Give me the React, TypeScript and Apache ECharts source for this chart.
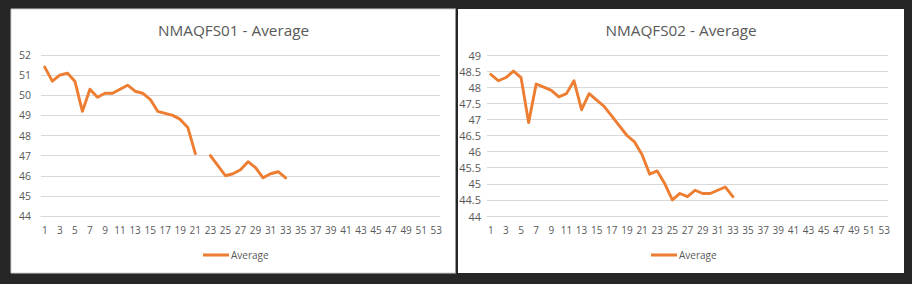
import React, { useEffect, useRef } from "react";
import * as echarts from "echarts";

const categories: string[] = Array.from({ length: 53 }, (_, i) => String(i + 1));

const titleLeft = "NMAQFS01 - Average";
const titleRight = "NMAQFS02 - Average";
const seriesName = "Average";

const valuesLeft: (number | null)[] = [
  51.4, 50.7, 51.0, 51.1, 50.7, 49.2, 50.3, 49.9, 50.1, 50.1,
  50.3, 50.5, 50.2, 50.1, 49.8, 49.2, 49.1, 49.0, 48.8, 48.4,
  47.1, null, 47.0, 46.5, 46.0, 46.1, 46.3, 46.7, 46.4, 45.9,
  46.1, 46.2, 45.9,
];

const valuesRight: (number | null)[] = [
  48.4, 48.2, 48.3, 48.5, 48.3, 46.9, 48.1, 48.0, 47.9, 47.7,
  47.8, 48.2, 47.3, 47.8, 47.6, 47.4, 47.1, 46.8, 46.5, 46.3,
  45.9, 45.3, 45.4, 45.0, 44.5, 44.7, 44.6, 44.8, 44.7, 44.7,
  44.8, 44.9, 44.6,
];

const FONT = "Open Sans";
const TEXT = "#595959";
const GRID = "#D9D9D9";
const ORANGE = "#ED7D31";

export default function App() {
  const ref = useRef<HTMLDivElement>(null);
  useEffect(() => {
    if (!ref.current) return;
    const chart = echarts.init(ref.current, undefined, { renderer: "svg" });
    const xAxisBase = {
      type: "category" as const,
      data: categories,
      boundaryGap: true,
      axisTick: { show: false },
      axisLine: { show: true, lineStyle: { color: GRID, width: 1 } },
      axisLabel: { interval: 1, color: TEXT, fontFamily: FONT, fontSize: 10, margin: 9 },
      splitLine: { show: false },
    };
    const yAxisBase = {
      type: "value" as const,
      axisLine: { show: false },
      axisTick: { show: false },
      axisLabel: { color: TEXT, fontFamily: FONT, fontSize: 10.5 },
      splitLine: { show: true, lineStyle: { color: GRID, width: 1 } },
    };
    const lineStyle = { color: ORANGE, width: 2.9, cap: "round" as const, join: "round" as const };
    chart.setOption({
      animation: false,
      backgroundColor: "#262626",
      graphic: [
        { type: "rect", z: -10, silent: true, shape: { x: 11, y: 9, width: 445, height: 264 }, style: { fill: "#ffffff", stroke: "#d0d0d0", lineWidth: 1 } },
        { type: "rect", z: -10, silent: true, shape: { x: 458, y: 9, width: 446, height: 264 }, style: { fill: "#ffffff" } },
        { type: "rect", z: 100, silent: true, shape: { x: 456, y: 9, width: 2, height: 264 }, style: { fill: "#262626" } },
        { type: "rect", z: 100, silent: true, shape: { x: 455, y: 9, width: 1, height: 264 }, style: { fill: "#9a9a9a" } },
        { type: "text", z: 5, x: 233.5, y: 30, style: { text: titleLeft, fill: TEXT, font: `15.3px "${FONT}"`, textAlign: "center", textVerticalAlign: "middle" } },
        { type: "text", z: 5, x: 681, y: 30, style: { text: titleRight, fill: TEXT, font: `15.3px "${FONT}"`, textAlign: "center", textVerticalAlign: "middle" } },
      ],
      legend: [
        { left: 203, top: 250, padding: 0, icon: "rect", itemWidth: 26, itemHeight: 3, itemGap: 3, data: [seriesName], textStyle: { color: TEXT, fontFamily: FONT, fontSize: 10, padding: [0, 0, 0, -3] } },
        { left: 651, top: 250, padding: 0, icon: "rect", itemWidth: 26, itemHeight: 3, itemGap: 3, data: [seriesName], textStyle: { color: TEXT, fontFamily: FONT, fontSize: 10, padding: [0, 0, 0, -3] } },
      ],
      grid: [
        { left: 41, top: 55, width: 399, height: 161, containLabel: false },
        { left: 487, top: 55, width: 401, height: 161, containLabel: false },
      ],
      xAxis: [
        { ...xAxisBase, gridIndex: 0 },
        { ...xAxisBase, gridIndex: 1 },
      ],
      yAxis: [
        { ...yAxisBase, gridIndex: 0, min: 44, max: 52, interval: 1, axisLabel: { ...yAxisBase.axisLabel, margin: 10 } },
        { ...yAxisBase, gridIndex: 1, min: 44, max: 49, interval: 0.5, axisLabel: { ...yAxisBase.axisLabel, fontSize: 11, margin: 6 } },
      ],
      series: [
        { name: seriesName, type: "line", xAxisIndex: 0, yAxisIndex: 0, data: valuesLeft, showSymbol: false, symbol: "none", connectNulls: false, lineStyle, itemStyle: { color: ORANGE } },
        { name: seriesName, type: "line", xAxisIndex: 1, yAxisIndex: 1, data: valuesRight, showSymbol: false, symbol: "none", connectNulls: false, lineStyle, itemStyle: { color: ORANGE } },
      ],
    });
    return () => chart.dispose();
  }, []);
  return (
    <div style={{ position: "fixed", left: 0, top: 0, width: 912, height: 284, background: "#262626" }}>
      <div ref={ref} style={{ width: 912, height: 284 }} />
    </div>
  );
}
